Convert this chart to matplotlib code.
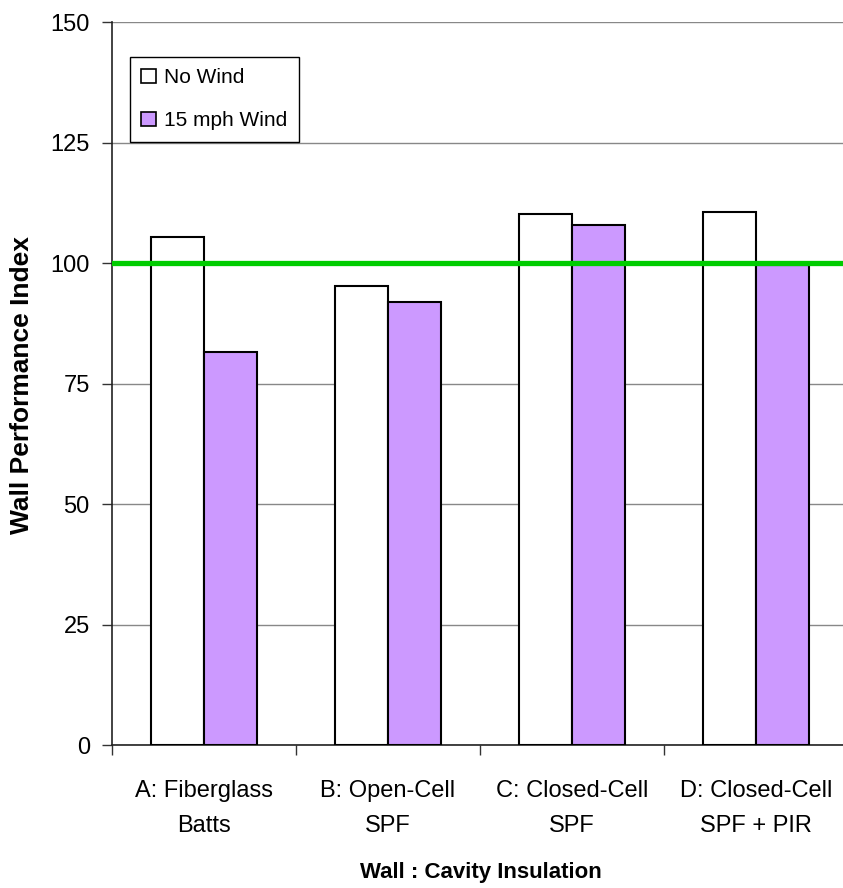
import matplotlib
matplotlib.use("Agg")
import matplotlib.pyplot as plt
import numpy as np
from matplotlib.patches import Patch

plt.rcParams['font.family'] = ['Liberation Sans', 'DejaVu Sans']

categories = ["A: Fiberglass\nBatts", "B: Open-Cell\nSPF", "C: Closed-Cell\nSPF", "D: Closed-Cell\nSPF + PIR"]
no_wind = [105.4, 95.2, 110.2, 110.5]
wind_15 = [81.6, 91.9, 107.9, 99.5]
series_labels = ["No Wind", "15 mph Wind"]
reference_level = 100
yticks = [0, 25, 50, 75, 100, 125, 150]

fig = plt.figure(figsize=(8.43, 8.88), dpi=100)
ax = fig.add_axes([112/843, 1-745/888, 736/843, 723/888])

x = np.arange(len(categories))
w = 0.29
ax.bar(x - 0.145, no_wind, w, color='white', edgecolor='black', linewidth=1.5, zorder=3)
ax.bar(x + 0.145, wind_15, w, color='#CC99FF', edgecolor='black', linewidth=1.5, zorder=3)
ax.axhline(reference_level, color='#00CC00', linewidth=3.8, zorder=4)

ax.set_xlim(-0.5, len(categories) - 0.5)
ax.set_ylim(0, 150)
ax.set_yticks(yticks)
ax.yaxis.grid(True, color='#888888', linewidth=1.0, zorder=0)
ax.set_axisbelow(True)

ax.set_xticks(np.arange(-0.5, len(categories), 1.0))
ax.set_xticklabels([])
ax.set_xticks(x, minor=True)
ax.set_xticklabels(categories, minor=True, fontsize=17, linespacing=1.8)
ax.tick_params(axis='x', which='major', length=7, width=1, color='#333333', direction='out')
ax.tick_params(axis='x', which='minor', length=0, pad=25)
ax.tick_params(axis='y', length=7, width=1, color='#333333', labelsize=17, pad=9)

for s in ['top', 'right']:
    ax.spines[s].set_visible(False)
ax.spines['left'].set_color('#222222')
ax.spines['bottom'].set_color('#222222')
ax.spines['left'].set_linewidth(1.2)
ax.spines['bottom'].set_linewidth(1.2)

fig.text(22/843, 1-385/888, "Wall Performance Index", fontsize=19, fontweight='bold',
         rotation=90, ha='center', va='center')
fig.text(481/843, 1-872/888, "Wall : Cavity Insulation", fontsize=16, fontweight='bold', ha='center', va='center')

handles = [Patch(facecolor='white', edgecolor='black', linewidth=1.2),
           Patch(facecolor='#CC99FF', edgecolor='black', linewidth=1.2)]
leg = ax.legend(handles, series_labels, loc='upper left', bbox_to_anchor=(18/736, 1-35/723),
                fontsize=15, frameon=True, fancybox=False, framealpha=1, edgecolor='black',
                handlelength=0.7, handleheight=0.7, handletextpad=0.4, labelspacing=1.15,
                borderpad=0.55, borderaxespad=0)
leg.get_frame().set_linewidth(1.0)
leg.set_zorder(5)

fig.savefig("out.png", dpi=100)
